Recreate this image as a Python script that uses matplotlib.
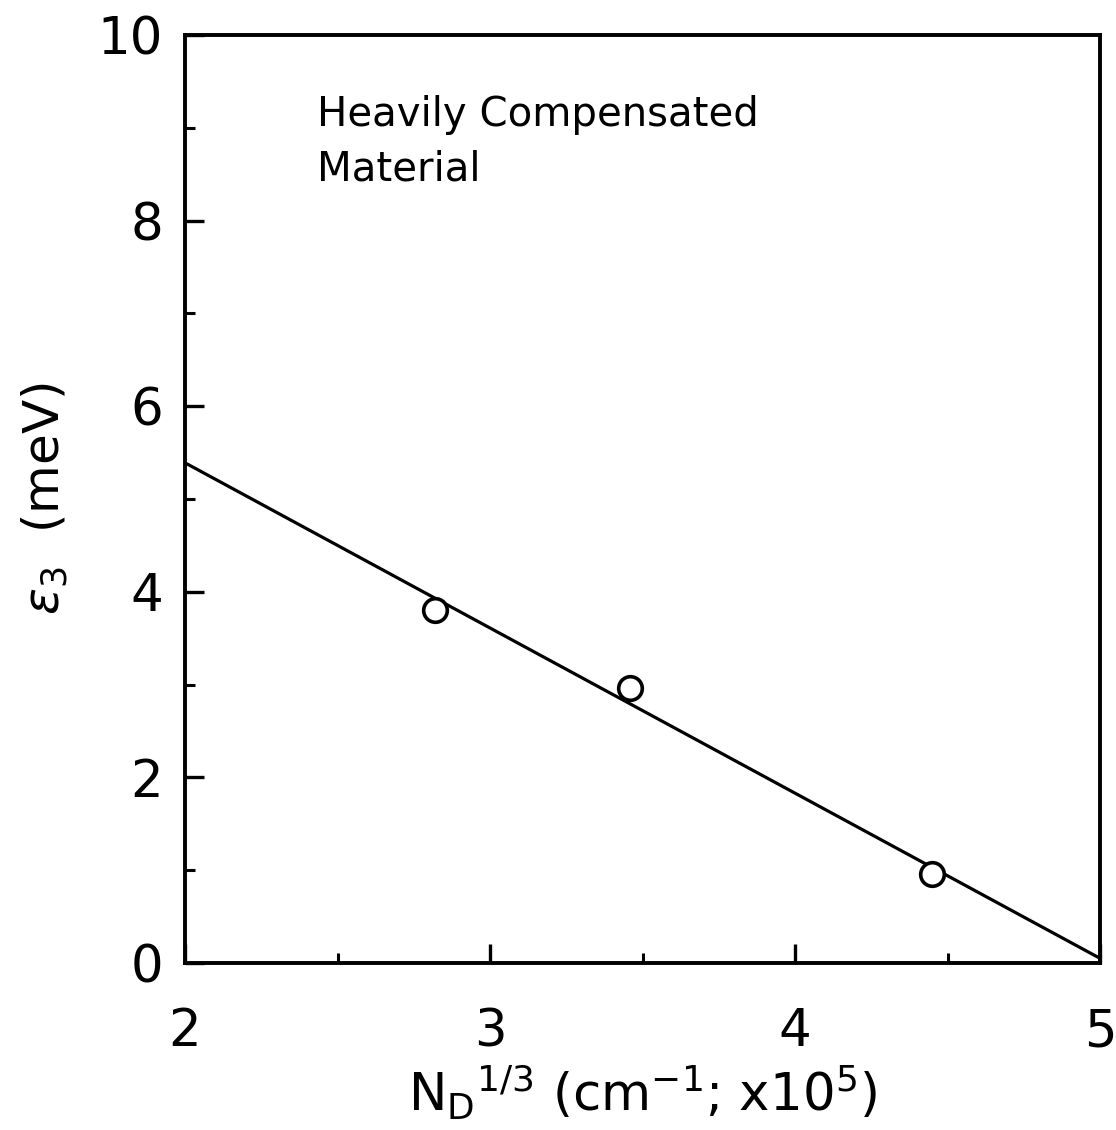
import matplotlib
matplotlib.use("Agg")
import matplotlib.pyplot as plt
import numpy as np

# Data
nd_third = [2.82, 3.46, 4.45]
eps3 = [3.80, 2.96, 0.96]
fit_x = [2.0, 5.0]
fit_y = [5.39, 0.05]

plt.rcParams['font.family'] = ['DejaVu Sans']
plt.rcParams['mathtext.fontset'] = 'custom'
plt.rcParams['mathtext.rm'] = 'DejaVu Sans'
plt.rcParams['mathtext.it'] = 'DejaVu Sans:italic'

fig = plt.figure(figsize=(11.16, 11.3), dpi=100)
ax = fig.add_axes([0.1658, 0.1478, 0.8199, 0.8212])

ax.plot(fit_x, fit_y, color='black', lw=2.3)
ax.plot(nd_third, eps3, linestyle='none', marker='o', ms=17, mfc='white',
        mec='black', mew=2.6)

ax.set_xlim(2, 5)
ax.set_ylim(0, 10)
ax.set_xticks([2, 3, 4, 5])
ax.set_xticks([2.5, 3.5, 4.5], minor=True)
ax.set_yticks([0, 2, 4, 6, 8, 10])
ax.set_yticks([1, 3, 5, 7, 9], minor=True)

for s in ax.spines.values():
    s.set_linewidth(2.8)

ax.tick_params(which='major', direction='in', length=14, width=2.4,
               labelsize=37, top=False, right=False)
ax.tick_params(which='minor', direction='in', length=7, width=2.2,
               top=False, right=False)
ax.tick_params(axis='x', which='major', pad=32)
ax.tick_params(axis='y', which='major', pad=16)

ax.set_xlabel(r'N$_\mathrm{D}$$^{\mathrm{1/3}}$ (cm$^{\mathrm{-1}}$; x10$^{\mathrm{5}}$)',
              fontsize=37, labelpad=4)
ax.set_ylabel(r'$\varepsilon_\mathrm{3}$  (meV)', fontsize=36, labelpad=20)

ax.text(0.144, 0.935, 'Heavily Compensated\nMaterial', transform=ax.transAxes,
        fontsize=29, va='top', ha='left', linespacing=1.45)

fig.savefig('out.png', dpi=100)
